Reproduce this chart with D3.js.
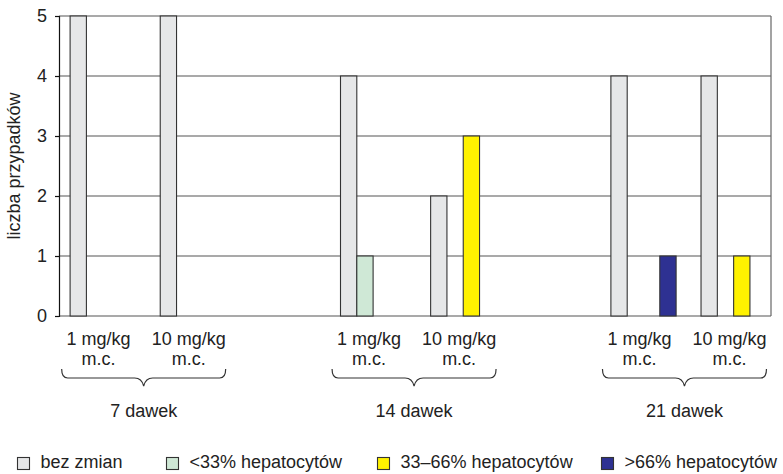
<!DOCTYPE html>
<html>
<head>
<meta charset="utf-8">
<script src="https://cdn.jsdelivr.net/npm/d3@7"></script>
<style>
  html, body { margin: 0; padding: 0; background: #fff; }
  svg { display: block; font-family: "Liberation Sans", Arial, Helvetica, sans-serif; }
</style>
</head>
<body>
<svg id="chart" width="783" height="474"></svg>
<script>
// Dose groups and doses within each group
const groups = ["7 dawek", "14 dawek", "21 dawek"];
const doses = ["1 mg/kg", "10 mg/kg"];
const doseUnit = "m.c.";

// Series (degree of hepatocyte change)
const seriesNames = ["bez zmian", "<33% hepatocytów", "33–66% hepatocytów", ">66% hepatocytów"];
const seriesColors = ["#e6e7e8", "#cfe8d6", "#fff200", "#2e3192"];

// Number of cases per series, ordered 7d/1, 7d/10, 14d/1, 14d/10, 21d/1, 21d/10
const bezZmian   = [5, 5, 4, 2, 4, 4];
const below33    = [0, 0, 1, 0, 0, 0];
const from33to66 = [0, 0, 0, 3, 0, 1];
const above66    = [0, 0, 0, 0, 1, 0];

const yTicks = [0, 1, 2, 3, 4, 5];
const yTitle = "liczba przypadków";

const seriesValues = [bezZmian, below33, from33to66, above66];

// Category slots: two doses per group, with an empty slot between groups
const slots = [];
groups.forEach((g, gi) => {
  doses.forEach((d, di) => slots.push({ key: g + "|" + d, group: g, dose: d, idx: gi * 2 + di }));
  if (gi < groups.length - 1) slots.push({ key: "gap" + gi, gap: true });
});

const svg = d3.select("#chart");
const plotLeft = 59, plotRight = 771, plotTop = 16, plotBottom = 316;

const x = d3.scaleBand()
  .domain(slots.map(s => s.key))
  .range([plotLeft, plotRight])
  .paddingInner(0.2765)
  .paddingOuter(0.088)
  .align(0.7);

const xs = d3.scaleBand()
  .domain(seriesNames)
  .range([0, x.bandwidth()]);

const y = d3.scaleLinear().domain([0, 5]).range([plotBottom, plotTop]);

// Gridlines
svg.append("g")
  .selectAll("line")
  .data(yTicks)
  .join("line")
  .attr("x1", plotLeft).attr("x2", plotRight)
  .attr("y1", d => y(d)).attr("y2", d => y(d))
  .attr("stroke", "#555").attr("stroke-width", 1.2);

// Right frame edge
svg.append("line")
  .attr("x1", plotRight).attr("x2", plotRight)
  .attr("y1", y(5)).attr("y2", y(0))
  .attr("stroke", "#666").attr("stroke-width", 1.2);

// Bars
const dataSlots = slots.filter(s => !s.gap);
const bars = [];
dataSlots.forEach(s => {
  seriesNames.forEach((name, si) => {
    const v = seriesValues[si][s.idx];
    if (v > 0) bars.push({ slot: s.key, series: name, color: seriesColors[si], value: v });
  });
});

svg.append("g")
  .selectAll("rect")
  .data(bars)
  .join("rect")
  .attr("x", d => x(d.slot) + xs(d.series))
  .attr("y", d => y(d.value))
  .attr("width", xs.bandwidth())
  .attr("height", d => y(0) - y(d.value))
  .attr("fill", d => d.color)
  .attr("stroke", "#333")
  .attr("stroke-width", 1.1);

// Y axis
const yAxis = svg.append("g")
  .attr("transform", `translate(${plotLeft},0)`)
  .call(d3.axisLeft(y).tickValues(yTicks).tickFormat(d3.format("d")).tickSize(4).tickPadding(8));
yAxis.select(".domain").attr("stroke", "#111").attr("stroke-width", 1.2);
yAxis.selectAll(".tick line").attr("stroke", "#111").attr("stroke-width", 1.2);
yAxis.selectAll(".tick text")
  .attr("font-size", 18)
  .attr("font-family", "Liberation Sans, Arial, sans-serif")
  .attr("fill", "#222");

// Y title
svg.append("text")
  .attr("transform", "translate(20,166) rotate(-90)")
  .attr("text-anchor", "middle")
  .attr("font-size", 18)
  .attr("fill", "#222")
  .text(yTitle);

// Dose labels under each category
const labelOffset = 28.5;
const labelX = s => x(s.key) + labelOffset;
const doseLabels = svg.append("g")
  .selectAll("text")
  .data(dataSlots)
  .join("text")
  .attr("text-anchor", "middle")
  .attr("font-size", 18)
  .attr("fill", "#222");
doseLabels.append("tspan").attr("x", labelX).attr("y", 344.5).text(d => d.dose);
doseLabels.append("tspan").attr("x", labelX).attr("y", 364.5).text(doseUnit);

// Curly braces and group labels
const braceHalf = 82;
groups.forEach(g => {
  const pair = dataSlots.filter(s => s.group === g);
  const cx = (labelX(pair[0]) + labelX(pair[1])) / 2;
  const x0 = cx - braceHalf, x1 = cx + braceHalf;
  const yTop = 369, yMid = 378, yTip = 386, r = 6;
  const p = d3.path();
  p.moveTo(x0, yTop);
  p.quadraticCurveTo(x0, yMid, x0 + r, yMid);
  p.lineTo(cx - 9, yMid);
  p.quadraticCurveTo(cx - 2, yMid, cx, yTip);
  p.quadraticCurveTo(cx + 2, yMid, cx + 9, yMid);
  p.lineTo(x1 - r, yMid);
  p.quadraticCurveTo(x1, yMid, x1, yTop);
  svg.append("path")
    .attr("d", p.toString())
    .attr("fill", "none")
    .attr("stroke", "#333")
    .attr("stroke-width", 1.2);
  svg.append("text")
    .attr("x", cx).attr("y", 417)
    .attr("text-anchor", "middle")
    .attr("font-size", 18)
    .attr("fill", "#222")
    .text(g);
});

// Legend
const legendX = [17, 166, 377, 601];
const legend = svg.append("g")
  .selectAll("g")
  .data(seriesNames)
  .join("g")
  .attr("transform", (d, i) => `translate(${legendX[i]},0)`);
legend.append("rect")
  .attr("x", 0.5).attr("y", 457.5)
  .attr("width", 12).attr("height", 12)
  .attr("fill", (d, i) => seriesColors[i])
  .attr("stroke", "#333").attr("stroke-width", 1.1);
legend.append("text")
  .attr("x", 23.5).attr("y", 468)
  .attr("font-size", 18)
  .attr("fill", "#222")
  .text(d => d);
</script>
</body>
</html>
